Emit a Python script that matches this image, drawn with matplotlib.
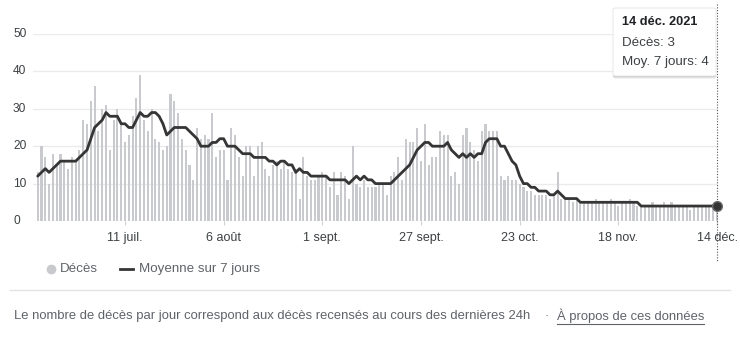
import matplotlib
matplotlib.use('Agg')
import matplotlib.pyplot as plt
import matplotlib.transforms as mtransforms
from matplotlib.lines import Line2D
from matplotlib.patches import FancyBboxPatch
import pandas as pd

plt.rcParams['font.family'] = ['Liberation Sans', 'DejaVu Sans']

# daily deaths, 18 June -> 14 Dec 2021
deces = [
    13, 20, 17, 10, 18, 15, 18, 16, 14, 17,
    16, 19, 27, 26, 32, 36, 24, 30, 31, 19,
    27, 30, 26, 21, 23, 28, 33, 39, 27, 24,
    30, 22, 21, 19, 20, 34, 32, 29, 22, 19,
    15, 11, 25, 22, 23, 22, 29, 17, 19, 19,
    11, 25, 23, 17, 12, 20, 20, 12, 20, 21,
    14, 12, 15, 16, 14, 16, 14, 13, 14, 6,
    17, 12, 11, 11, 12, 13, 12, 9, 13, 7,
    13, 12, 6, 20, 10, 9, 11, 9, 9, 9,
    10, 10, 7, 12, 13, 17, 11, 22, 21, 21,
    25, 16, 26, 15, 17, 17, 24, 23, 23, 12,
    13, 10, 23, 25, 21, 19, 16, 24, 26, 24,
    24, 24, 12, 11, 12, 11, 11, 10, 9, 8,
    8, 7, 7, 7, 7, 6, 7, 13, 6, 6,
    6, 5, 6, 5, 5, 5, 5, 6, 5, 5,
    5, 6, 5, 4, 5, 5, 6, 5, 4, 4,
    4, 4, 5, 4, 4, 5, 4, 5, 4, 4,
    4, 4, 3, 4, 4, 4, 4, 4, 4, 3,
]

# 7-day average as shown on the chart
moyenne = [
    12, 13, 14, 13, 14, 15, 16, 16, 16, 16,
    16, 17, 18, 19, 22, 25, 26, 27, 29, 28,
    28, 28, 26, 26, 25, 25, 27, 29, 28, 28,
    29, 29, 28, 26, 23, 24, 25, 25, 25, 25,
    24, 23, 22, 20, 20, 20, 21, 21, 22, 22,
    20, 20, 20, 19, 18, 18, 18, 17, 17, 17,
    17, 16, 16, 15, 16, 16, 15, 15, 13, 14,
    13, 13, 12, 12, 12, 12, 12, 11, 11, 11,
    11, 11, 10, 11, 12, 11, 12, 11, 11, 10,
    10, 10, 10, 10, 11, 12, 13, 14, 15, 17,
    19, 20, 21, 21, 20, 20, 20, 20, 21, 19,
    18, 17, 18, 17, 18, 17, 18, 18, 21, 22,
    22, 22, 20, 20, 18, 16, 15, 12, 10, 10,
    9, 9, 8, 8, 8, 7, 7, 8, 7, 6,
    6, 6, 6, 5, 5, 5, 5, 5, 5, 5,
    5, 5, 5, 5, 5, 5, 5, 5, 5, 4,
    4, 4, 4, 4, 4, 4, 4, 4, 4, 4,
    4, 4, 4, 4, 4, 4, 4, 4, 4, 4,
]

tick_dates = ['2021-07-11', '2021-08-06', '2021-09-01', '2021-09-27',
              '2021-10-23', '2021-11-18', '2021-12-14']
tick_labels = ['11 juil.', '6 août', '1 sept.', '27 sept.',
               '23 oct.', '18 nov.', '14 déc.']
y_ticks = [0, 10, 20, 30, 40, 50]

dates = pd.date_range('2021-06-18', periods=len(deces), freq='D')

W, H = 740, 337
fig = plt.figure(figsize=(W / 100, H / 100), dpi=100)


def fx(px):
    return px / W


def fy(py):
    return 1 - py / H


ax = fig.add_axes([fx(33), fy(221), fx(685), 187 / H])
ax.bar(dates, deces, width=0.55, color='#c8cacd', zorder=2)
ax.plot(dates, moyenne, color='#353535', lw=2, zorder=3,
        solid_joinstyle='round', solid_capstyle='round')
ax.plot(dates[-1], moyenne[-1], 'o', ms=7, mfc='#353535', mec='#6a6a6a',
        mew=1, zorder=5, clip_on=False)

ax.set_ylim(0, 50)
ax.set_xlim(dates[0] - pd.Timedelta(days=1.24), dates[-1] + pd.Timedelta(days=0.26))
for s in ax.spines.values():
    s.set_visible(False)
ax.set_yticks(y_ticks)
ax.yaxis.grid(True, color='#ebebeb', lw=1, zorder=0)
ax.tick_params(axis='y', length=0, labelleft=False)
ax.set_xticks(pd.to_datetime(tick_dates))
ax.set_xticklabels(tick_labels)
ax.tick_params(axis='x', length=3, color='#d0d0d0', pad=5,
               labelsize=9, labelcolor='#3c4043')

# y labels, left aligned
ytr = mtransforms.blended_transform_factory(fig.transFigure, ax.transData)
for v in y_ticks:
    fig.text(fx(13), v, str(v), transform=ytr, ha='left', va='center',
             fontsize=8.6, color='#3c4043')

# dotted hover line
vtr = mtransforms.blended_transform_factory(ax.transData, fig.transFigure)
xd = matplotlib.dates.date2num(dates[-1])
ax.add_line(Line2D([xd, xd], [fy(4), fy(262)], transform=vtr, clip_on=False,
                   color='#555555', lw=0.8, ls=(0, (1, 1.5)), zorder=4))

# tooltip
for off, a in [(3, 0.05), (2, 0.07), (1, 0.09)]:
    fig.add_artist(FancyBboxPatch((fx(613), fy(76 + off)), fx(103), (68 + off) / H,
                                  boxstyle='round,pad=0,rounding_size=0.004',
                                  transform=fig.transFigure, fc='black', ec='none',
                                  alpha=a, zorder=6))
fig.add_artist(FancyBboxPatch((fx(613), fy(76)), fx(103), 68 / H,
                              boxstyle='round,pad=0,rounding_size=0.004',
                              transform=fig.transFigure, fc='white', ec='#e4e4e4',
                              lw=0.6, zorder=7))
fig.text(fx(622), fy(22), '14 déc. 2021', fontsize=9.2, fontweight='bold',
         color='#202124', va='center', zorder=8)
fig.text(fx(622), fy(43), 'Décès: 3', fontsize=9.6, color='#3c4043', va='center', zorder=8)
fig.text(fx(622), fy(62), 'Moy. 7 jours: 4', fontsize=9.6, color='#3c4043',
         va='center', zorder=8)

# legend
fig.add_artist(Line2D([fx(51)], [fy(269)], marker='o', ms=6, color='#c8cacd', lw=0))
fig.text(fx(60), fy(269), 'Décès', fontsize=9.6, color='#5f6368', va='center')
fig.add_artist(Line2D([fx(120), fx(133)], [fy(269), fy(269)], color='#353535', lw=2))
fig.text(fx(139), fy(269), 'Moyenne sur 7 jours', fontsize=9.6, color='#5f6368', va='center')

# separator and footer
fig.add_artist(Line2D([fx(10), fx(730)], [fy(290), fy(290)], color='#e3e3e3', lw=1))
fig.text(fx(14), fy(316),
         'Le nombre de décès par jour correspond aux décès recensés au cours des dernières 24h',
         fontsize=9.4, color='#5f6368', va='center')
fig.text(fx(547), fy(316), '·', fontsize=9.4, color='#5f6368', va='center', ha='center')
t2 = fig.text(fx(557), fy(316), 'À propos de ces données', fontsize=9.4,
              color='#5f6368', va='center')
fig.canvas.draw()
bb = t2.get_window_extent()
fig.add_artist(Line2D([bb.x0 / W, bb.x1 / W], [(bb.y0 - 1) / H, (bb.y0 - 1) / H],
                      color='#5f6368', lw=0.8))

fig.savefig('out.png', dpi=100)
